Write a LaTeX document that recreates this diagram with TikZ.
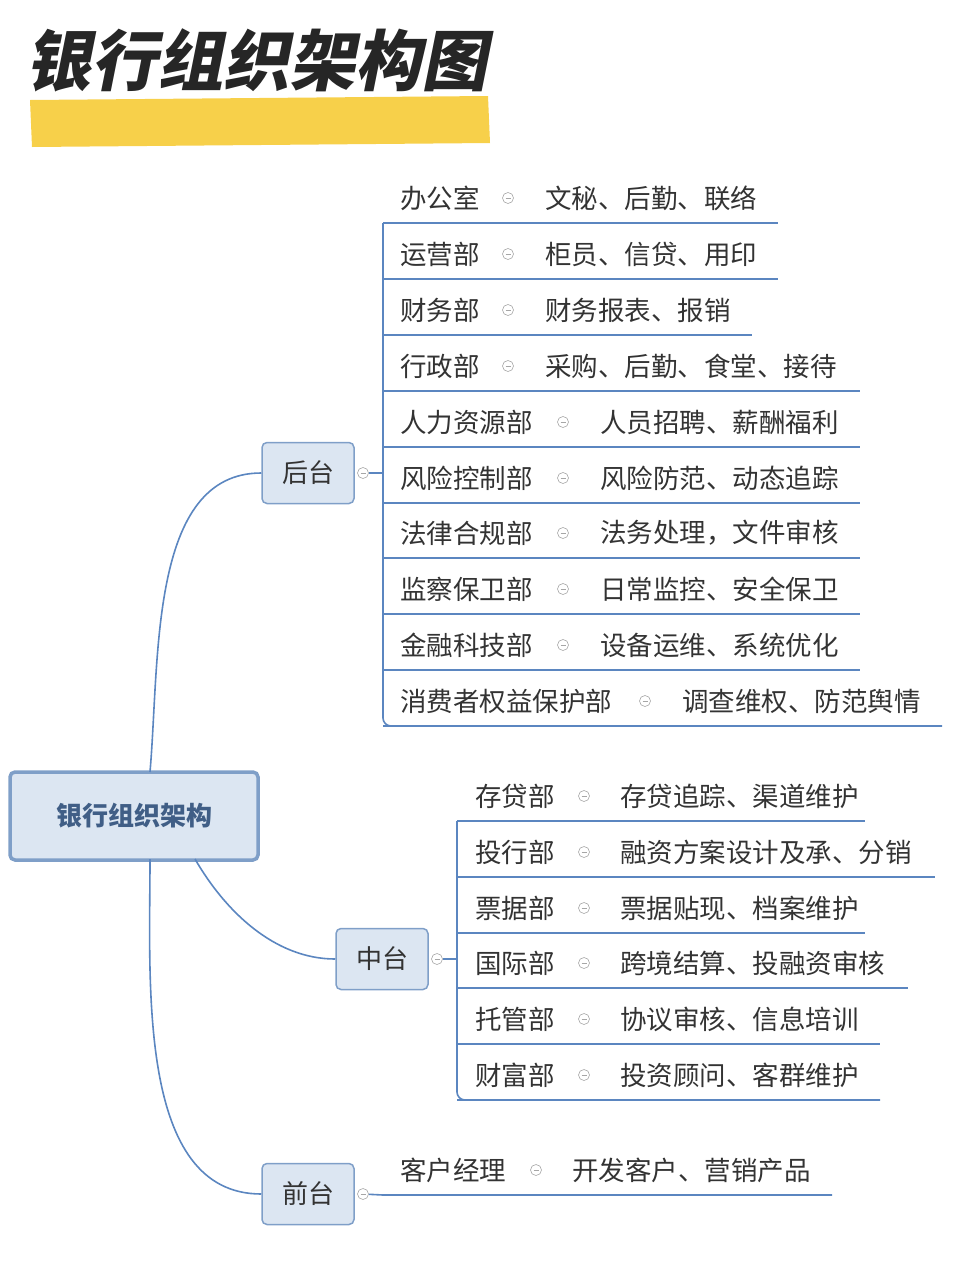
\documentclass[tikz,border=0pt]{standalone}
\usepackage{fontspec}
\setmainfont{Noto Sans CJK SC}
\usetikzlibrary{positioning}
\definecolor{linec}{HTML}{5B86C0}
\definecolor{fillc}{HTML}{DCE6F2}
\definecolor{bordc}{HTML}{7F9FC8}
\definecolor{txtc}{HTML}{333333}
\definecolor{hili}{HTML}{F7D04A}
\tikzset{
  topic/.style={draw=bordc,line width=1.5pt,fill=fillc,rounded corners=5pt,minimum width=92pt,minimum height=61pt,font=\fontsize{26}{26}\selectfont,text=txtc},
  item/.style={anchor=west,inner sep=0pt,font=\fontsize{26.5}{26}\selectfont,text=txtc},
  fold/.style={circle,draw=gray!70,line width=0.6pt,minimum size=11pt,inner sep=0pt,
    path picture={\draw[gray!70,line width=0.6pt] ([xshift=-2.5pt]path picture bounding box.center)--([xshift=2.5pt]path picture bounding box.center);}},
  conn/.style={linec,line width=1.6pt}
}
\begin{document}
\begin{tikzpicture}[x=1pt,y=-1pt]
\useasboundingbox (0,0) rectangle (960,1280);
% title
\fill[hili] (30,100) -- (488,96) -- (490,143) -- (32,147) -- cycle;
\node[inner sep=0pt,anchor=west,font=\fontsize{66}{66}\selectfont\bfseries,text=black!85,xslant=0.2] (title) at (30,60) {银行组织架构图};
% root and topics
\node[topic,minimum width=248pt,minimum height=88pt,line width=3.5pt,font=\fontsize{26}{26}\selectfont\bfseries,text=linec!70!black] (root) at (134,816) {银行组织架构};
\node[topic] (back) at (308,473) {后台};
\node[topic] (mid) at (382,959) {中台};
\node[topic] (front) at (308,1194) {前台};
\draw[conn] (150,772) to[out=85,in=180,looseness=0.9] (back.west);
\draw[conn] (195,859) to[out=-60,in=180,looseness=0.9] (mid.west);
\draw[conn] (150,859) to[out=-90,in=180,looseness=0.9] (front.west);
\node[fold] (backf) at (363,473) {};
\node[fold] (midf) at (437,959) {};
\node[fold] (frontf) at (363,1194) {};
% back office
\foreach \n/\y/\a/\b/\cx/\e in {
  1/198/办公室/文秘、后勤、联络/508/778,
  2/254/运营部/柜员、信贷、用印/508/778,
  3/310/财务部/财务报表、报销/508/752,
  4/366/行政部/采购、后勤、食堂、接待/508/860,
  5/422/人力资源部/人员招聘、薪酬福利/563/860,
  6/478/风险控制部/风险防范、动态追踪/563/860,
  7/533/法律合规部/法务处理，文件审核/563/860,
  8/589/监察保卫部/日常监控、安全保卫/563/860,
  9/645/金融科技部/设备运维、系统优化/563/860,
  10/701/消费者权益保护部/调查维权、防范舆情/645/942}{
  \node[item] (b\n) at (400,\y) {\a};
  \node[fold] (bf\n) at (\cx,\y) {};
  \node[item] (bc\n) at (\cx+37,\y) {\b};
  \coordinate (bl\n) at (383,\y+25);
  \coordinate (be\n) at (\e,\y+25);
  \draw[conn] (bl\n) -- (be\n);
}
\draw[conn,rounded corners=8pt] (bl1) -- (bl10) -- (be10);
\draw[conn] (backf) -- (383,473);
% middle office
\foreach \n/\y/\a/\b/\e in {
  1/796/存贷部/存贷追踪、渠道维护/865,
  2/852/投行部/融资方案设计及承、分销/935,
  3/908/票据部/票据贴现、档案维护/865,
  4/963/国际部/跨境结算、投融资审核/908,
  5/1019/托管部/协议审核、信息培训/880,
  6/1075/财富部/投资顾问、客群维护/880}{
  \node[item] (m\n) at (475,\y) {\a};
  \node[fold] (mf\n) at (584,\y) {};
  \node[item] (mc\n) at (620,\y) {\b};
  \coordinate (ml\n) at (457,\y+25);
  \coordinate (me\n) at (\e,\y+25);
  \draw[conn] (ml\n) -- (me\n);
}
\draw[conn,rounded corners=8pt] (ml1) -- (ml6) -- (me6);
\draw[conn] (midf) -- (457,959);
% front office
\node[item] (f1) at (400,1170) {客户经理};
\node[fold] (ff1) at (536,1170) {};
\node[item] (fc1) at (572,1170) {开发客户、营销产品};
\coordinate (fl1) at (383,1195);
\coordinate (fe1) at (832,1195);
\draw[conn] (frontf) -- (fl1) -- (fe1);
\end{tikzpicture}
\end{document}
